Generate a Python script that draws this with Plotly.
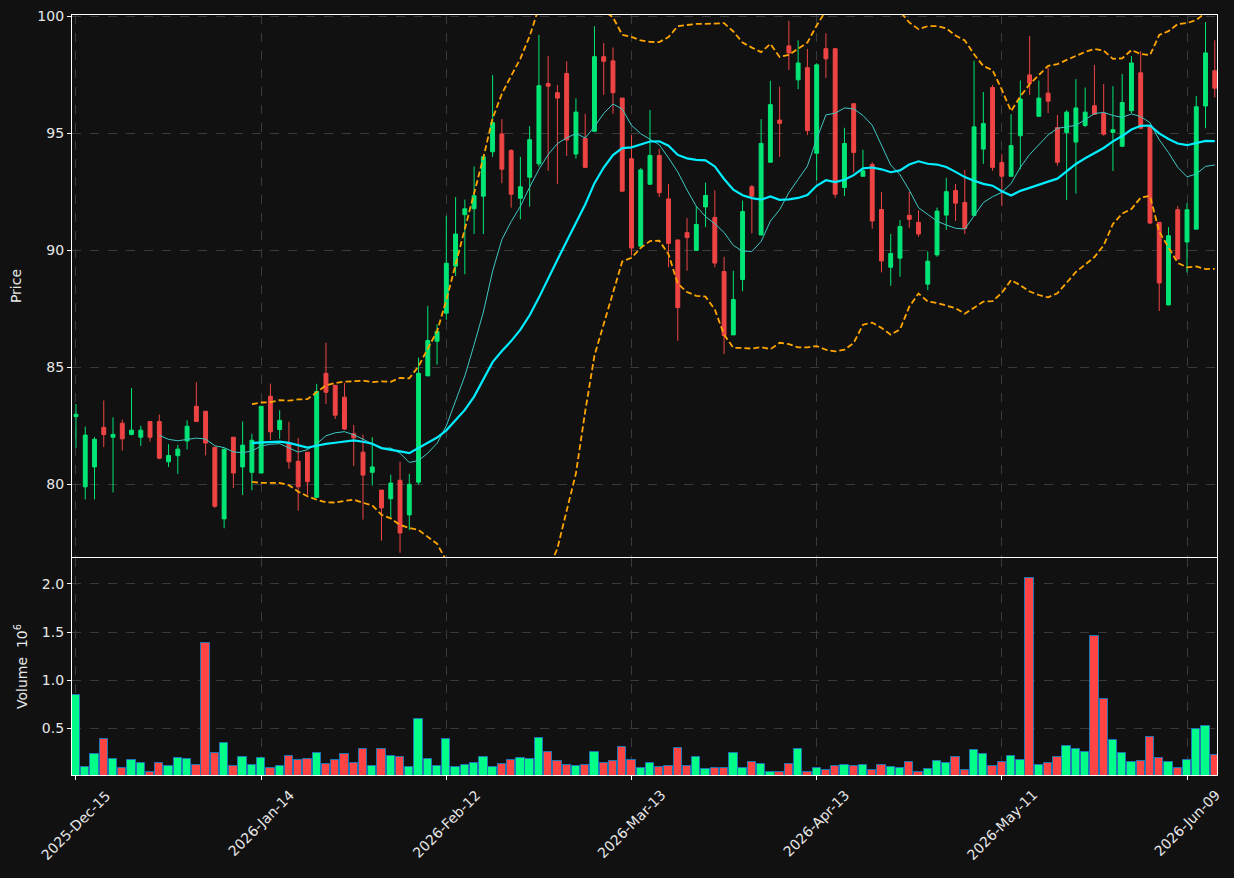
import pandas as pd
import plotly.graph_objects as go

# ---- data ----
holidays = ["2025-12-25", "2026-01-01", "2026-01-19", "2026-02-16", "2026-04-03", "2026-05-25"]
dates = pd.bdate_range("2025-12-15", periods=124, freq="C", holidays=holidays)

opens = [82.90, 79.90, 80.75, 82.44, 82.02, 82.62, 82.14, 82.02, 82.69, 82.69,
         80.97, 81.23, 81.86, 83.34, 83.13, 81.59, 78.53, 82.02, 80.75, 80.52,
         80.49, 83.77, 82.35, 81.77, 80.99, 81.38, 79.45, 84.75, 84.24, 83.73,
         82.17, 81.38, 80.52, 79.76, 79.39, 80.18, 78.70, 80.10, 84.64, 86.12,
         87.32, 89.33, 91.53, 91.78, 92.32, 94.22, 94.98, 94.27, 92.23, 93.13,
         93.70, 97.13, 96.74, 97.56, 94.12, 94.78, 95.09, 98.28, 98.10, 96.51,
         93.92, 90.18, 92.83, 94.06, 92.20, 90.45, 90.76, 90.00, 91.86, 91.41,
         89.10, 86.39, 88.76, 92.72, 90.66, 93.77, 95.57, 98.74, 97.29, 97.81,
         94.15, 98.62, 98.62, 92.69, 96.27, 93.17, 93.67, 91.75, 89.28, 89.67,
         91.50, 91.20, 88.56, 89.81, 91.51, 92.56, 92.05, 91.50, 94.33, 96.96,
         93.76, 93.17, 94.90, 97.50, 95.73, 96.72, 95.25, 95.04, 94.63, 95.34,
         96.18, 95.85, 95.04, 94.45, 95.97, 97.59, 95.34, 91.20, 87.67, 91.74,
         90.36, 90.91, 96.17, 97.68]
highs = [83.44, 82.47, 82.02, 83.59, 82.87, 82.77, 84.12, 82.51, 82.69, 82.99,
         81.72, 81.69, 82.74, 84.37, 83.13, 81.59, 81.51, 82.02, 82.69, 82.17,
         83.34, 84.31, 83.17, 82.68, 81.99, 81.38, 84.30, 86.06, 84.24, 84.34,
         82.54, 82.13, 82.02, 79.76, 80.42, 80.97, 80.45, 85.42, 87.63, 86.84,
         91.48, 92.28, 92.17, 93.59, 94.00, 97.50, 95.61, 94.33, 94.00, 95.31,
         99.21, 98.31, 97.07, 98.08, 96.50, 95.84, 99.58, 98.86, 98.67, 96.51,
         94.94, 93.52, 96.00, 94.34, 92.84, 90.45, 91.38, 91.90, 92.90, 92.57,
         89.73, 89.13, 92.13, 92.80, 95.61, 97.25, 97.00, 99.81, 98.98, 98.61,
         98.00, 99.28, 98.62, 95.24, 96.27, 94.30, 93.77, 92.50, 90.70, 91.30,
         92.50, 91.72, 89.96, 91.83, 93.10, 92.84, 93.44, 98.11, 96.77, 97.07,
         94.12, 95.82, 97.26, 99.16, 97.26, 97.81, 95.79, 95.99, 97.32, 96.96,
         97.93, 97.11, 97.02, 97.54, 98.31, 98.52, 95.34, 91.20, 91.00, 91.90,
         92.02, 96.60, 99.76, 98.98]
lows = [81.57, 79.36, 79.36, 81.60, 79.66, 81.45, 82.10, 81.65, 81.83, 81.08,
        80.75, 80.45, 81.50, 82.69, 81.24, 79.00, 78.13, 79.85, 79.55, 79.75,
        80.49, 81.90, 81.95, 80.67, 78.88, 79.55, 79.45, 83.44, 82.80, 82.32,
        80.79, 78.50, 79.96, 77.60, 78.60, 77.08, 78.05, 80.00, 84.64, 85.12,
        87.04, 88.91, 88.98, 90.70, 90.70, 94.00, 92.87, 91.83, 91.33, 91.87,
        93.58, 93.40, 92.84, 94.04, 93.92, 93.52, 95.09, 96.65, 95.84, 92.53,
        89.80, 90.18, 92.80, 92.28, 89.28, 86.14, 89.13, 90.00, 91.00, 89.28,
        85.57, 86.39, 88.26, 90.73, 90.66, 93.77, 94.00, 97.71, 96.89, 94.93,
        92.99, 97.37, 92.25, 92.32, 93.32, 93.17, 90.93, 89.06, 88.49, 88.88,
        90.97, 90.58, 88.31, 89.73, 90.88, 91.26, 90.70, 91.50, 93.70, 93.40,
        91.90, 93.17, 93.47, 96.65, 95.73, 95.87, 93.62, 92.16, 92.43, 95.27,
        95.79, 94.90, 93.40, 94.45, 95.87, 95.22, 91.12, 87.41, 87.67, 89.63,
        89.06, 90.91, 95.22, 96.54]
closes = [83.00, 82.11, 81.93, 82.13, 82.14, 81.95, 82.32, 82.32, 82.02, 81.12,
          81.24, 81.51, 82.49, 82.69, 81.77, 79.07, 81.51, 80.49, 81.68, 81.89,
          83.34, 82.25, 82.74, 80.97, 79.90, 80.12, 83.97, 83.94, 82.96, 82.37,
          81.99, 80.40, 80.75, 79.00, 80.06, 77.93, 80.01, 84.75, 86.15, 86.54,
          89.45, 90.70, 91.78, 92.34, 94.00, 95.46, 93.47, 92.40, 92.72, 94.73,
          97.04, 97.02, 96.51, 94.72, 95.91, 93.55, 98.28, 98.08, 96.74, 92.53,
          90.10, 93.44, 94.06, 92.47, 90.30, 87.56, 90.55, 91.11, 92.35, 89.46,
          86.36, 87.90, 91.66, 92.32, 94.57, 96.23, 95.43, 98.44, 98.01, 95.12,
          97.93, 98.19, 92.40, 94.57, 94.18, 93.40, 91.26, 89.55, 89.87, 91.02,
          91.33, 90.70, 89.54, 91.68, 92.51, 92.02, 90.94, 95.28, 95.42, 93.55,
          93.17, 94.48, 96.47, 97.14, 96.51, 96.38, 93.77, 95.91, 96.09, 95.91,
          95.82, 94.97, 95.16, 96.32, 98.01, 95.22, 91.17, 88.61, 90.63, 89.63,
          91.74, 96.14, 98.44, 96.93]
volumes = [0.844, 0.094, 0.229, 0.385, 0.177, 0.083, 0.167, 0.135, 0.049, 0.135,
           0.104, 0.187, 0.177, 0.115, 1.385, 0.240, 0.344, 0.104, 0.198, 0.115,
           0.187, 0.083, 0.104, 0.208, 0.167, 0.177, 0.240, 0.125, 0.167, 0.229,
           0.135, 0.281, 0.104, 0.281, 0.208, 0.198, 0.094, 0.594, 0.177, 0.104,
           0.385, 0.094, 0.115, 0.135, 0.198, 0.094, 0.125, 0.167, 0.187, 0.177,
           0.396, 0.250, 0.156, 0.115, 0.104, 0.115, 0.250, 0.135, 0.156, 0.302,
           0.167, 0.083, 0.135, 0.094, 0.104, 0.292, 0.104, 0.198, 0.073, 0.083,
           0.083, 0.240, 0.083, 0.146, 0.125, 0.049, 0.049, 0.125, 0.281, 0.049,
           0.083, 0.063, 0.104, 0.115, 0.104, 0.115, 0.063, 0.115, 0.094, 0.083,
           0.146, 0.042, 0.073, 0.156, 0.135, 0.198, 0.063, 0.271, 0.229, 0.104,
           0.146, 0.208, 0.167, 2.063, 0.115, 0.135, 0.198, 0.313, 0.281, 0.250,
           1.458, 0.802, 0.375, 0.240, 0.146, 0.156, 0.406, 0.187, 0.146, 0.083,
           0.167, 0.493, 0.521, 0.219]

tick_positions = [0, 20, 40, 60, 80, 100, 120]
tick_labels = [dates[i].strftime("%Y-%b-%d") for i in tick_positions]

# ---- indicators derived from the closes ----
cs = pd.Series(closes)
ma_fast = cs.rolling(10).mean()
ma_slow = cs.rolling(20).mean()
sd = cs.rolling(20).std(ddof=0)
bb_up = ma_slow + 2 * sd
bb_lo = ma_slow - 2 * sd

x = list(range(len(closes)))

UP_C = "#00e676"
DN_C = "#ef4444"
VOL_UP = "#00ff88"
VOL_DN = "#ff4444"
vol_colors = [VOL_UP if c >= o else VOL_DN for o, c in zip(opens, closes)]

fig = go.Figure()
fig.add_trace(go.Candlestick(
    x=x, open=opens, high=highs, low=lows, close=closes,
    increasing=dict(line=dict(color=UP_C, width=1), fillcolor=UP_C),
    decreasing=dict(line=dict(color=DN_C, width=1), fillcolor=DN_C),
    whiskerwidth=0, xaxis="x", yaxis="y", showlegend=False, hoverinfo="skip"))
fig.add_trace(go.Scatter(x=x, y=ma_fast, mode="lines",
                         line=dict(color="#3ec9c3", width=1), xaxis="x", yaxis="y",
                         showlegend=False, hoverinfo="skip"))
fig.add_trace(go.Scatter(x=x, y=ma_slow, mode="lines",
                         line=dict(color="#00eeff", width=2.2), xaxis="x", yaxis="y",
                         showlegend=False, hoverinfo="skip"))
for band in (bb_up, bb_lo):
    fig.add_trace(go.Scatter(x=x, y=band, mode="lines",
                             line=dict(color="#ffa500", width=1.8, dash="6px,3px"),
                             xaxis="x", yaxis="y", showlegend=False, hoverinfo="skip"))
fig.add_trace(go.Bar(x=x, y=volumes, marker=dict(color=vol_colors,
                                                line=dict(color="#1f77b4", width=1)),
                     width=0.9, xaxis="x2", yaxis="y2", showlegend=False, hoverinfo="skip"))

axis_common = dict(showline=True, linecolor="white", linewidth=1.3, mirror=True,
                   ticks="outside", tickcolor="white", ticklen=4, tickwidth=1,
                   showgrid=True, gridcolor="#3a3a3a", griddash="dash", gridwidth=1,
                   zeroline=False, automargin=False,
                   tickfont=dict(color="#e8e8e8", size=14))
xr = [-0.43, 123.24]
fig.update_layout(
    width=1234, height=878,
    margin=dict(l=72, r=17, t=15, b=103),
    paper_bgcolor="#111111", plot_bgcolor="#111111",
    font=dict(family="DejaVu Sans", color="#e8e8e8", size=14),
    boxgap=0.4,
    bargap=0,
    xaxis=dict(axis_common, range=xr, anchor="y", tickvals=tick_positions,
               showticklabels=False, rangeslider=dict(visible=False), ticks=""),
    xaxis2=dict(axis_common, range=xr, anchor="y2", matches="x",
                tickvals=tick_positions, showticklabels=False),
    yaxis=dict(axis_common, domain=[0.2868, 1.0], range=[76.9, 100.06],
               tickvals=[80, 85, 90, 95, 100],
               title=dict(text="Price", font=dict(size=14, color="#e8e8e8"), standoff=12)),
    yaxis2=dict(axis_common, domain=[0.0, 0.2855], range=[0.014, 2.27],
                tickvals=[0.5, 1.0, 1.5, 2.0], ticktext=["0.5", "1.0", "1.5", "2.0"],
                title=dict(text="Volume  10<sup>6</sup>", font=dict(size=14, color="#e8e8e8"),
                           standoff=10)),
)

# date labels centred under their ticks, rotated 45 degrees
for pos, lab in zip(tick_positions, tick_labels):
    fig.add_annotation(x=pos, xref="x2", y=0, yref="paper", yshift=-9,
                       text=lab, textangle=-45, showarrow=False,
                       xanchor="center", yanchor="top",
                       font=dict(size=14, color="#e8e8e8", family="DejaVu Sans"))

fig.write_html("out.html")
